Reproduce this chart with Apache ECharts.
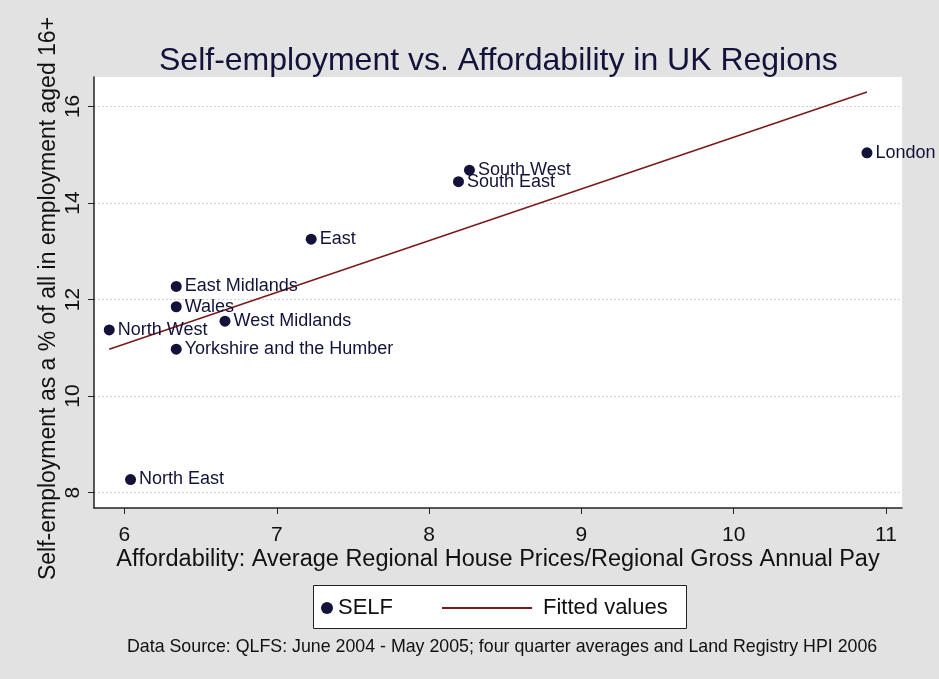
<!DOCTYPE html>
<html>
<head>
<meta charset="utf-8">
<title>Self-employment vs. Affordability in UK Regions</title>
<script src="https://cdn.jsdelivr.net/npm/echarts@6/dist/echarts.min.js"></script>
<style>
  html, body { margin: 0; padding: 0; background: #e2e2e2; }
  #chart { width: 939px; height: 679px; }
</style>
</head>
<body>
<div id="chart"></div>
<script>
// Regions and their values
const regions = ['London', 'South West', 'South East', 'East', 'East Midlands', 'Wales',
  'West Midlands', 'North West', 'Yorkshire and the Humber', 'North East'];
// Affordability: average house price / gross annual pay
const affordability = [10.875, 8.265, 8.193, 7.226, 6.34, 6.34, 6.66, 5.90, 6.34, 6.04];
// Self-employment as % of all in employment aged 16+
const selfEmployment = [15.04, 14.68, 14.44, 13.25, 12.27, 11.85, 11.55, 11.37, 10.97, 8.27];
// Fitted regression line end points
const fittedX = [5.90, 10.875];
const fittedY = [10.97, 16.30];
// Axis tick values
const xTicks = [6, 7, 8, 9, 10, 11];
const yTicks = [8, 10, 12, 14, 16];

const FONT = 'Liberation Sans, Arial, sans-serif';
const INK = '#12123a';

const chart = echarts.init(document.getElementById('chart'), null, { renderer: 'canvas' });

chart.setOption({
  backgroundColor: '#e2e2e2',
  animation: false,
  title: [
    {
      text: 'Self-employment vs. Affordability in UK Regions',
      left: 154, top: 40,
      textStyle: { fontFamily: FONT, fontSize: 32, fontWeight: 'normal', color: INK }
    },
    {
      text: 'Data Source: QLFS: June 2004 - May 2005; four quarter averages and Land Registry HPI 2006',
      left: 122, top: 633,
      textStyle: { fontFamily: FONT, fontSize: 17.8, fontWeight: 'normal', color: '#111' }
    }
  ],
  graphic: [
    {
      type: 'rect', left: 313, top: 585, z: 0,
      shape: { width: 373, height: 43 },
      style: { fill: '#ffffff', stroke: '#222', lineWidth: 1 }
    }
  ],
  legend: [
    {
      data: [{ name: 'SELF', icon: 'circle' }],
      left: 316, top: 592, itemWidth: 12, itemHeight: 12, itemGap: 8,
      textStyle: { fontFamily: FONT, fontSize: 22, color: '#111' }
    },
    {
      data: [{ name: 'Fitted values', icon: 'rect' }],
      left: 437, top: 592, itemWidth: 90, itemHeight: 2,
      textStyle: { fontFamily: FONT, fontSize: 22, color: '#111', padding: [0, 0, 0, 6] }
    }
  ],
  grid: {
    left: 94, right: 37, top: 77, bottom: 171,
    show: true, backgroundColor: '#ffffff', borderWidth: 0
  },
  xAxis: {
    type: 'value', min: 5.80, max: 11.105,
    name: 'Affordability: Average Regional House Prices/Regional Gross Annual Pay',
    nameLocation: 'middle', nameGap: 40, nameMoveOverlap: false,
    nameTextStyle: { fontFamily: FONT, fontSize: 23.5, color: '#111' },
    axisLine: { show: true, onZero: false, lineStyle: { color: '#222', width: 1.5 } },
    axisTick: { show: true, customValues: xTicks, length: 6, lineStyle: { color: '#222' } },
    axisLabel: { customValues: xTicks, margin: 17, fontFamily: FONT, fontSize: 21, color: '#111' },
    splitLine: { show: false }
  },
  yAxis: {
    type: 'value', min: 7.68, max: 16.61,
    name: 'Self-employment as a % of all in employment aged 16+',
    nameLocation: 'middle', nameGap: 34, nameRotate: 90, nameMoveOverlap: false,
    nameTextStyle: { fontFamily: FONT, fontSize: 23, color: '#111', padding: [0, 12, 0, 0] },
    axisLine: { show: true, onZero: false, lineStyle: { color: '#222', width: 1.5 } },
    axisTick: { show: true, customValues: yTicks, length: 6, lineStyle: { color: '#222' } },
    axisLabel: { customValues: yTicks, rotate: 90, margin: 10, fontFamily: FONT, fontSize: 21, color: '#111' },
    splitLine: { show: true, lineStyle: { color: '#d2d2d2', width: 1, type: [2, 2] } }
  },
  series: [
    {
      name: 'SELF',
      type: 'scatter',
      symbol: 'circle', symbolSize: 11,
      itemStyle: { color: INK, opacity: 1 },
      data: regions.map((r, i) => ({ name: r, value: [affordability[i], selfEmployment[i]] })),
      label: {
        show: true, position: 'right', distance: 3, formatter: '{b}',
        fontFamily: FONT, fontSize: 18, color: INK
      },
      z: 3
    },
    {
      name: 'Fitted values',
      type: 'line',
      showSymbol: false, symbol: 'none',
      lineStyle: { color: '#7a1a1a', width: 1.6 },
      itemStyle: { color: '#7a1a1a' },
      data: fittedX.map((x, i) => [x, fittedY[i]]),
      z: 2
    }
  ]
});
</script>
</body>
</html>
